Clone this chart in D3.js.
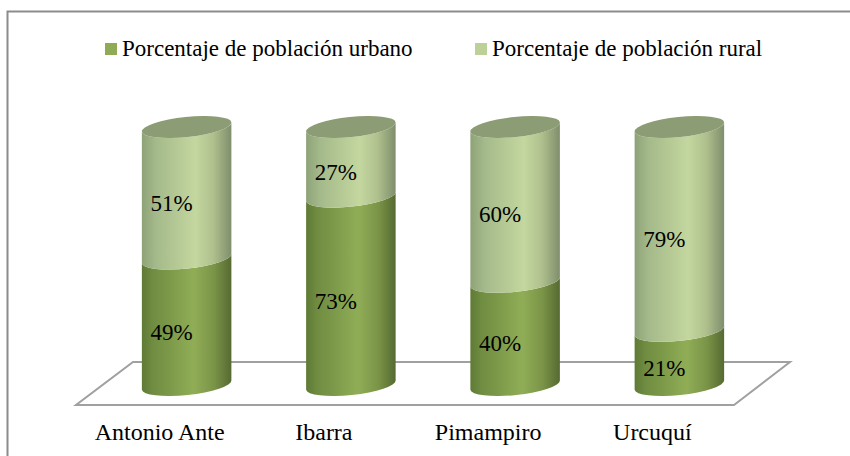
<!DOCTYPE html>
<html>
<head>
<meta charset="utf-8">
<script src="https://cdn.jsdelivr.net/npm/d3@7"></script>
<style>
  html, body { margin: 0; padding: 0; background: #fff; }
  svg { display: block; }
  text { font-family: "Liberation Serif", serif; fill: #000; }
  .tick line, .domain { display: none; }
</style>
</head>
<body>
<svg width="850" height="456"></svg>
<script>
const categories = ['Antonio Ante', 'Ibarra', 'Pimampiro', 'Urcuquí'];
const urbano = [49, 73, 40, 21];
const rural = [51, 27, 60, 79];
const seriesNames = ['Porcentaje de población urbano', 'Porcentaje de población rural'];

const svg = d3.select('svg');

// Frame of the chart, only left and top show in the picture
svg.append('path')
    .attr('d', 'M7.5,456V11.5H850')
    .attr('fill', 'none')
    .attr('stroke', '#8c8c8c')
    .attr('stroke-width', 2);

const x = d3.scaleBand().domain(categories).range([104.5, 761.5]);
const y = d3.scaleLinear().domain([0, 100]).range([385, 127]);

const rx = 45, ry = 10, tilt = 6;
const dx = rx * Math.cos(tilt * Math.PI / 180);
const dy = rx * Math.sin(tilt * Math.PI / 180);

// Gradients, one per series
const defs = svg.append('defs');
const gradients = [
  {id: 'grad-urbano', stops: [[0, '#5e7a35'], [0.12, '#6f8c41'], [0.58, '#90ad56'], [0.8, '#7b9548'], [1, '#566a32']]},
  {id: 'grad-rural', stops: [[0, '#8da277'], [0.15, '#a4b98a'], [0.6, '#c4d79f'], [0.8, '#afc08d'], [1, '#7f8e6c']]}
];
gradients.forEach(g => {
  defs.append('linearGradient').attr('id', g.id)
    .selectAll('stop').data(g.stops)
    .enter().append('stop')
      .attr('offset', d => d[0])
      .attr('stop-color', d => d[1]);
});

// Floor of the 3D plot
const floorTop = 362, floorBottom = 405;
svg.append('path')
    .attr('d', `M133,${floorTop}L790,${floorTop}L734,${floorBottom}L76,${floorBottom}Z`)
    .attr('fill', '#fff')
    .attr('stroke', '#a0a0a0')
    .attr('stroke-width', 2);

// Stack the two series
const table = categories.map((c, i) => ({name: c, urbano: urbano[i], rural: rural[i]}));
const stacked = d3.stack().keys(['urbano', 'rural'])(table);

function sidePath(cx, y0, y1) {
  return `M${cx - dx},${y0 + dy}` +
    `A${rx},${ry} ${-tilt} 0 0 ${cx + dx},${y0 - dy}` +
    `L${cx + dx},${y1 - dy}` +
    `A${rx},${ry} ${-tilt} 0 1 ${cx - dx},${y1 + dy}Z`;
}

stacked.forEach((layer, s) => {
  svg.append('g').selectAll('path').data(layer)
    .enter().append('path')
      .attr('d', d => sidePath(x(d.data.name) + x.bandwidth() / 2, y(d[0]), y(d[1])))
      .attr('fill', `url(#${gradients[s].id})`);
});

// Lid of each cylinder
svg.append('g').selectAll('ellipse').data(table)
  .enter().append('ellipse')
    .attr('rx', rx).attr('ry', ry)
    .attr('transform', d => `translate(${x(d.name) + x.bandwidth() / 2},${y(100)}) rotate(${-tilt})`)
    .attr('fill', '#8c9c74');

// Data labels
stacked.forEach(layer => {
  svg.append('g').selectAll('text').data(layer)
    .enter().append('text')
      .attr('x', d => x(d.data.name) + x.bandwidth() / 2 - 15)
      .attr('y', d => y((d[0] + d[1]) / 2) + 18)
      .attr('text-anchor', 'middle')
      .style('font-size', '23px')
      .text(d => (d[1] - d[0]) + '%');
});

// Category labels
const axis = svg.append('g')
    .attr('transform', 'translate(-27,422)')
    .call(d3.axisBottom(x).tickSize(0).tickPadding(0));
axis.selectAll('text')
    .attr('dy', 0).attr('y', 17.5)
    .style('font-size', '24px')
    .style('font-family', '"Liberation Serif", serif');

// Legend
const legendX = d3.scaleOrdinal().domain(seriesNames).range([105, 475]);
const legendColor = d3.scaleOrdinal().domain(seriesNames).range(['#8fab55', '#bcd097']);
const legend = svg.append('g').selectAll('g').data(seriesNames)
  .enter().append('g')
    .attr('transform', d => `translate(${legendX(d)},43)`);
legend.append('rect')
    .attr('width', 12).attr('height', 12)
    .attr('fill', d => legendColor(d));
legend.append('text')
    .attr('x', 17).attr('y', 13)
    .style('font-size', '23px')
    .text(d => d);
</script>
</body>
</html>
